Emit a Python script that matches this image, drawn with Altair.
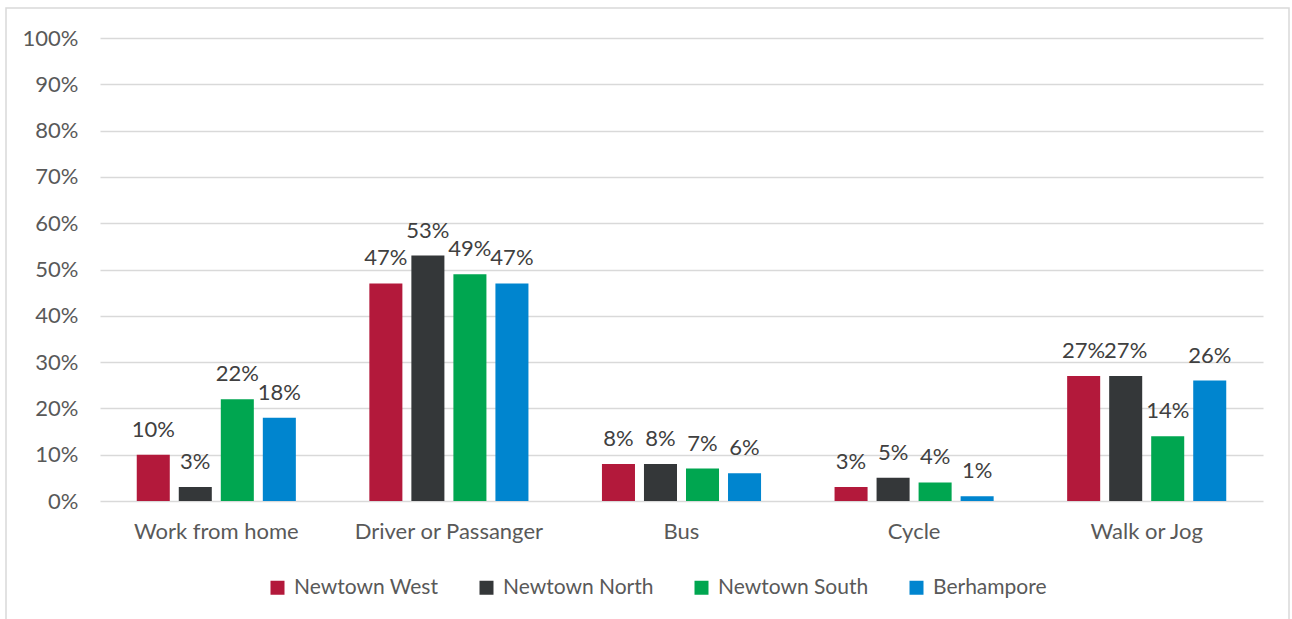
import altair as alt
import pandas as pd

categories = ["Work from home", "Driver or Passanger", "Bus", "Cycle", "Walk or Jog"]
series = ["Newtown West", "Newtown North", "Newtown South", "Berhampore"]
colors = ["#B3193B", "#343739", "#00A650", "#0085CF"]
values = {
    "Newtown West": [10, 47, 8, 3, 27],
    "Newtown North": [3, 53, 8, 5, 27],
    "Newtown South": [22, 49, 7, 4, 14],
    "Berhampore": [18, 47, 6, 1, 26],
}
y_ticks = [0, 10, 20, 30, 40, 50, 60, 70, 80, 90, 100]

rows = []
for s in series:
    for c, v in zip(categories, values[s]):
        rows.append({"category": c, "series": s, "value": v / 100.0, "label": f"{v}%"})
df = pd.DataFrame(rows)

FONT = "Lato"
FS = 22

x = alt.X("category:N", sort=categories, title=None,
          scale=alt.Scale(paddingInner=0.316, paddingOuter=0.158),
          axis=alt.Axis(labelAngle=0, ticks=False, domain=False, labelPadding=20, labelLimit=400,
                        labelFontSize=FS, labelColor="#595959", labelFont=FONT))
xo = alt.XOffset("series:N", sort=series, scale=alt.Scale(paddingInner=0.214, paddingOuter=0))
y = alt.Y("value:Q", title=None,
          scale=alt.Scale(domain=[0, 1], nice=False),
          axis=alt.Axis(values=[t / 100 for t in y_ticks], format=".0%", ticks=False, domain=False,
                        labelPadding=22, labelFontSize=FS, labelColor="#595959", labelFont=FONT,
                        gridColor="#D9D9D9", gridWidth=1.3))

base = alt.Chart(df)
bars = base.mark_bar().encode(
    x=x, xOffset=xo, y=y,
    color=alt.Color("series:N", sort=series,
                    scale=alt.Scale(domain=series, range=colors),
                    legend=alt.Legend(title=None, orient="none", legendX=167, legendY=539,
                                      direction="horizontal", symbolType="square",
                                      symbolSize=196, symbolStrokeWidth=0, labelFontSize=21,
                                      labelFont=FONT, labelColor="#595959", labelOffset=6,
                                      labelLimit=400, columnPadding=37)),
)
text = base.mark_text(baseline="alphabetic", dy=-18, fontSize=FS, font=FONT, color="#404040").encode(
    x=x, xOffset=xo, y=y, text="label:N"
)
border = alt.Chart(alt.Data(values=[{}])).mark_rect(
    fill=None, stroke="#D9D9D9", strokeWidth=1.5
).encode(x=alt.value(-94), x2=alt.value(1189), y=alt.value(-30), y2=alt.value(620))

chart = alt.layer(border, bars, text).properties(
    width=1163, height=463,
    autosize=alt.AutoSizeParams(type="none"),
    padding={"left": 100, "top": 38, "right": 29, "bottom": 118},
    background="white",
).configure_view(stroke=None)

chart.save("out.html", embed_options={"renderer": "svg", "actions": False})
